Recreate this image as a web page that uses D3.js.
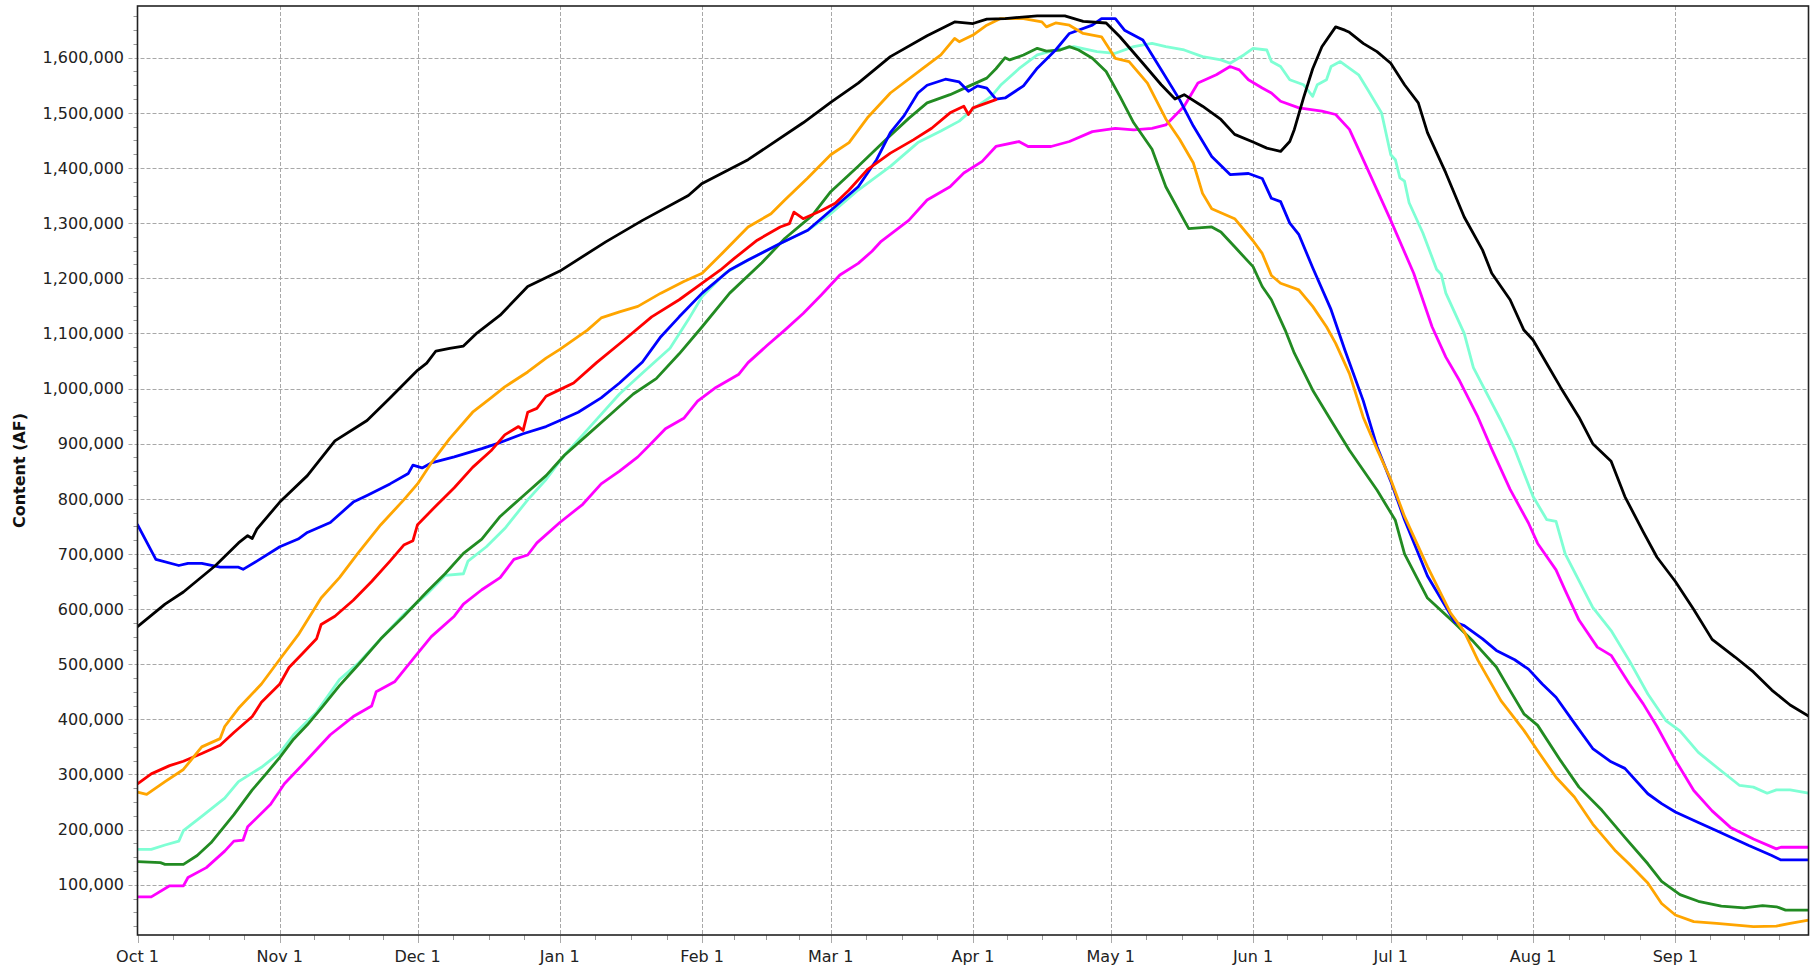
<!DOCTYPE html>
<html>
<head>
<meta charset="utf-8">
<script src="https://cdn.jsdelivr.net/npm/d3@7"></script>
<style>
  html, body { margin: 0; padding: 0; background: #fff; }
  svg { display: block; font-family: "DejaVu Sans", Verdana, sans-serif; }
</style>
</head>
<body>
<svg id="chart" width="1815" height="967"></svg>
<script>
// ---- Data (day offset from Oct 1, content in thousands of AF) ----
const monthTickLabels = ["Oct 1","Nov 1","Dec 1","Jan 1","Feb 1","Mar 1","Apr 1","May 1","Jun 1","Jul 1","Aug 1","Sep 1"];
const yTickValues = [100000,200000,300000,400000,500000,600000,700000,800000,900000,1000000,1100000,1200000,1300000,1400000,1500000,1600000];
const UNIT = 1000;

const seriesBlack = [[0,568],[6,609],[10,631],[17,679],[22,720],[24,733],[25,728],[26,745],[31,794],[37,842],[43,905],[50,942],[55,983],[61,1033],[63,1046],[65,1068],[68,1073],[71,1077],[74,1101],[79,1133],[85,1185],[92,1213],[102,1266],[110,1305],[120,1350],[123,1372],[133,1415],[145,1482],[151,1519],[157,1554],[164,1602],[172,1640],[178,1665],[182,1662],[185,1670],[189,1671],[196,1676],[202,1676],[206,1666],[211,1663],[214,1638],[219,1590],[223,1551],[226,1525],[228,1533],[232,1512],[236,1488],[239,1461],[243,1447],[246,1436],[249,1430],[251,1448],[252,1470],[254,1527],[256,1580],[258,1620],[261,1656],[263,1650],[264,1646],[267,1626],[270,1611],[273,1590],[276,1551],[279,1518],[281,1464],[285,1391],[289,1311],[293,1251],[295,1209],[299,1161],[302,1106],[304,1088],[307,1045],[310,1002],[314,948],[317,900],[321,868],[324,804],[328,740],[331,694],[335,650],[339,599],[343,545],[348,513],[352,486],[356,453],[360,426],[364,406]];

const seriesBlue = [[0,753],[4,690],[9,679],[11,683],[14,683],[18,676],[22,676],[23,672],[26,687],[31,713],[35,727],[37,739],[42,757],[47,794],[50,806],[55,827],[59,846],[60,861],[62,856],[64,865],[69,876],[75,891],[79,902],[84,918],[89,931],[92,942],[96,957],[101,983],[105,1010],[110,1048],[114,1094],[118,1130],[123,1173],[129,1215],[133,1233],[140,1263],[146,1287],[151,1323],[157,1366],[161,1415],[164,1464],[167,1495],[170,1536],[172,1550],[176,1561],[179,1556],[181,1539],[183,1549],[185,1545],[187,1525],[189,1527],[193,1549],[196,1581],[200,1614],[203,1644],[208,1659],[210,1671],[213,1671],[215,1650],[219,1632],[223,1578],[227,1524],[230,1476],[234,1421],[238,1388],[242,1390],[245,1381],[247,1345],[249,1339],[251,1300],[253,1279],[256,1219],[260,1143],[263,1070],[267,978],[270,895],[273,832],[276,762],[281,660],[287,576],[289,570],[293,546],[296,525],[300,508],[303,491],[306,464],[309,440],[313,393],[317,347],[321,323],[324,311],[329,265],[332,247],[335,232],[340,213],[344,198],[351,171],[356,153],[358,145],[364,145]];

const seriesRed = [[0,283],[3,301],[7,316],[10,324],[14,338],[18,353],[21,376],[25,405],[27,431],[31,464],[33,494],[36,520],[39,546],[40,572],[43,587],[47,616],[51,650],[55,687],[58,716],[60,724],[61,753],[65,787],[69,820],[73,857],[77,887],[80,916],[83,931],[84,924],[85,957],[87,964],[89,986],[92,998],[95,1010],[100,1047],[106,1088],[112,1130],[118,1161],[123,1191],[127,1215],[130,1236],[135,1269],[140,1293],[142,1299],[143,1320],[145,1308],[149,1323],[152,1336],[155,1360],[159,1397],[164,1427],[169,1451],[173,1472],[177,1500],[180,1512],[181,1497],[182,1509],[187,1524]];

const seriesOrange = [[0,268],[2,264],[6,287],[10,309],[14,350],[18,365],[19,387],[22,420],[27,464],[31,509],[35,553],[40,620],[44,657],[48,701],[53,753],[58,798],[61,827],[64,865],[68,909],[73,957],[77,983],[80,1003],[85,1030],[89,1055],[92,1071],[98,1106],[101,1128],[105,1139],[109,1149],[114,1173],[119,1194],[123,1209],[127,1242],[133,1293],[138,1317],[141,1342],[146,1382],[151,1424],[155,1446],[159,1491],[164,1536],[171,1580],[175,1605],[178,1635],[179,1629],[182,1641],[185,1659],[188,1671],[193,1671],[197,1665],[198,1656],[200,1663],[203,1659],[206,1644],[210,1638],[213,1599],[216,1593],[220,1554],[224,1489],[227,1452],[230,1409],[232,1354],[234,1326],[239,1308],[243,1268],[245,1245],[247,1205],[249,1191],[253,1179],[256,1149],[259,1112],[261,1082],[264,1027],[267,948],[270,890],[273,835],[276,768],[281,677],[286,593],[289,559],[292,507],[297,434],[302,380],[305,343],[309,295],[313,259],[317,210],[322,161],[325,137],[329,103],[332,66],[335,45],[339,33],[344,30],[352,24],[357,25],[360,30],[364,36]];

const seriesGreen = [[0,142],[5,140],[6,137],[10,137],[13,153],[16,176],[21,227],[25,272],[28,301],[31,331],[34,364],[37,390],[40,420],[44,461],[48,498],[53,546],[58,587],[63,631],[67,664],[71,701],[75,727],[79,768],[84,805],[89,842],[93,879],[98,916],[103,953],[108,990],[113,1018],[118,1063],[123,1112],[129,1173],[136,1228],[141,1272],[147,1314],[151,1357],[157,1403],[163,1451],[168,1490],[172,1518],[177,1533],[181,1548],[185,1563],[187,1580],[189,1600],[190,1596],[193,1605],[196,1617],[198,1612],[201,1614],[203,1620],[205,1614],[208,1599],[211,1575],[214,1530],[217,1482],[221,1434],[224,1366],[228,1305],[229,1290],[234,1293],[236,1284],[239,1257],[243,1221],[245,1185],[247,1161],[250,1106],[252,1064],[256,997],[260,942],[264,888],[270,816],[274,761],[276,700],[281,620],[287,574],[291,541],[296,495],[299,452],[302,410],[305,389],[310,325],[314,277],[319,235],[324,186],[329,138],[332,106],[336,82],[340,70],[345,61],[350,58],[354,62],[357,60],[359,54],[364,54]];

const seriesAqua = [[0,164],[3,164],[6,172],[9,179],[10,198],[14,224],[19,257],[22,287],[27,313],[31,339],[34,372],[39,413],[44,472],[48,501],[53,546],[58,590],[63,627],[67,661],[71,664],[72,687],[76,713],[80,746],[85,798],[89,835],[93,879],[97,916],[101,953],[105,990],[110,1028],[116,1073],[120,1125],[123,1167],[128,1209],[133,1233],[140,1263],[146,1287],[151,1317],[157,1360],[164,1403],[170,1446],[175,1467],[179,1485],[182,1507],[186,1530],[188,1550],[192,1580],[196,1605],[200,1614],[204,1620],[209,1611],[213,1608],[217,1620],[221,1626],[224,1620],[228,1614],[232,1602],[236,1596],[238,1590],[241,1605],[243,1617],[246,1614],[247,1593],[249,1584],[251,1560],[254,1551],[256,1530],[257,1551],[259,1560],[260,1584],[262,1593],[266,1569],[268,1542],[271,1500],[273,1424],[274,1415],[275,1382],[276,1376],[277,1337],[280,1282],[283,1216],[284,1207],[285,1173],[289,1100],[291,1038],[294,990],[297,942],[300,890],[304,804],[307,762],[309,759],[311,700],[317,603],[321,561],[325,506],[329,446],[333,397],[336,379],[340,340],[344,313],[349,280],[352,277],[355,266],[357,272],[360,272],[364,266]];

const seriesMagenta = [[0,78],[3,78],[7,98],[10,98],[11,113],[15,131],[19,161],[21,179],[23,181],[24,205],[29,246],[32,283],[37,327],[42,372],[47,405],[51,424],[52,450],[56,468],[60,509],[64,550],[69,587],[71,609],[75,635],[79,657],[82,690],[85,698],[87,720],[92,757],[97,790],[101,827],[105,850],[109,876],[112,901],[115,927],[119,946],[122,977],[126,1002],[131,1026],[133,1047],[137,1077],[141,1106],[145,1136],[149,1170],[153,1206],[157,1227],[160,1249],[162,1267],[168,1305],[172,1342],[177,1366],[180,1391],[184,1412],[187,1439],[192,1448],[194,1439],[199,1439],[203,1448],[208,1466],[213,1472],[217,1469],[221,1472],[224,1478],[228,1512],[231,1554],[235,1569],[238,1584],[240,1578],[242,1560],[245,1545],[247,1536],[249,1521],[253,1509],[258,1503],[261,1497],[264,1470],[268,1397],[273,1305],[278,1209],[282,1112],[285,1057],[288,1014],[292,948],[295,890],[299,817],[303,756],[305,719],[309,671],[311,634],[314,580],[318,531],[321,516],[325,464],[328,428],[331,387],[335,326],[339,271],[343,234],[347,204],[352,183],[357,165],[358,168],[364,168]];

const seriesList = [
  {name: "magenta", color: "#ff00ff", data: seriesMagenta},
  {name: "aqua",    color: "#7fffd4", data: seriesAqua},
  {name: "green",   color: "#228b22", data: seriesGreen},
  {name: "blue",    color: "#0000ff", data: seriesBlue},
  {name: "red",     color: "#ff0000", data: seriesRed},
  {name: "orange",  color: "#ffa500", data: seriesOrange},
  {name: "black",   color: "#000000", data: seriesBlack}
];

// ---- Layout ----
const W = 1815, H = 967;
const plot = {left: 137.5, top: 6, right: 1808.5, bottom: 935};
const start = new Date(2022, 9, 1);
const end = new Date(2023, 8, 30);
const toDate = d => d3.timeDay.offset(start, d);

const x = d3.scaleTime().domain([start, end]).range([plot.left, plot.right]);
const y = d3.scaleLinear().domain([8800, 1693800]).range([plot.bottom, plot.top]);

const svg = d3.select("#chart");
svg.append("rect").attr("width", W).attr("height", H).attr("fill", "#fff");

const monthTicks = d3.timeMonth.range(start, end);
const minorX = [];
monthTicks.forEach((m, i) => {
  const next = i + 1 < monthTicks.length ? monthTicks[i + 1] : d3.timeMonth.offset(m, 1);
  for (let k = 1; k < 4; k++) minorX.push(new Date(+m + (next - m) * k / 4));
});
const minorY = d3.range(25000, 1693800, 25000).filter(v => v % 100000 !== 0 && v > 8800);

const grid = svg.append("g");
grid.selectAll("line.h").data(yTickValues).join("line")
  .attr("x1", plot.left - 9).attr("x2", plot.right)
  .attr("y1", d => Math.round(y(d)) + 0.5).attr("y2", d => Math.round(y(d)) + 0.5)
  .attr("stroke", "#a8a8a8").attr("stroke-width", 1).attr("stroke-dasharray", "4,2");
grid.selectAll("line.v").data(monthTicks.slice(1)).join("line")
  .attr("x1", d => Math.round(x(d)) + 0.5).attr("x2", d => Math.round(x(d)) + 0.5)
  .attr("y1", plot.top).attr("y2", plot.bottom)
  .attr("stroke", "#a8a8a8").attr("stroke-width", 1).attr("stroke-dasharray", "4,2");

// minor ticks
svg.append("g").selectAll("line").data(minorY).join("line")
  .attr("x1", plot.left - 4).attr("x2", plot.left)
  .attr("y1", d => Math.round(y(d)) + 0.5).attr("y2", d => Math.round(y(d)) + 0.5)
  .attr("stroke", "#999");
svg.append("g").selectAll("line").data(minorX).join("line")
  .attr("x1", d => Math.round(x(d)) + 0.5).attr("x2", d => Math.round(x(d)) + 0.5)
  .attr("y1", plot.bottom).attr("y2", plot.bottom + 5)
  .attr("stroke", "#999");
svg.append("g").selectAll("line").data(monthTicks).join("line")
  .attr("x1", d => Math.round(x(d)) + 0.5).attr("x2", d => Math.round(x(d)) + 0.5)
  .attr("y1", plot.bottom).attr("y2", plot.bottom + 8)
  .attr("stroke", "#aaa");

// lines
const clip = svg.append("clipPath").attr("id", "clip").append("rect")
  .attr("x", plot.left).attr("y", plot.top)
  .attr("width", plot.right - plot.left).attr("height", plot.bottom - plot.top);
const line = d3.line().x(d => x(toDate(d[0]))).y(d => y(d[1] * UNIT));
svg.append("g").attr("clip-path", "url(#clip)")
  .selectAll("path").data(seriesList).join("path")
  .attr("d", s => line(s.data))
  .attr("fill", "none").attr("stroke", s => s.color)
  .attr("stroke-width", 2.8).attr("stroke-linejoin", "round").attr("stroke-linecap", "round");

// frame
svg.append("rect")
  .attr("x", plot.left).attr("y", plot.top)
  .attr("width", plot.right - plot.left).attr("height", plot.bottom - plot.top)
  .attr("fill", "none").attr("stroke", "#222").attr("stroke-width", 1.6);

// y labels
const fmt = d3.format(",");
svg.append("g").selectAll("text").data(yTickValues).join("text")
  .attr("x", 124).attr("y", d => y(d)).attr("dy", "0.36em")
  .attr("text-anchor", "end").attr("font-size", 16).attr("fill", "#222")
  .text(d => fmt(d));

// x labels
svg.append("g").selectAll("text").data(monthTicks).join("text")
  .attr("x", d => x(d)).attr("y", 962)
  .attr("text-anchor", "middle").attr("font-size", 16).attr("fill", "#222")
  .text((d, i) => monthTickLabels[i]);

// y title
svg.append("text")
  .attr("transform", `translate(25,${(plot.top + plot.bottom) / 2}) rotate(-90)`)
  .attr("text-anchor", "middle").attr("font-size", 16).attr("font-weight", "bold").attr("fill", "#111")
  .text("Content (AF)");
</script>
</body>
</html>
